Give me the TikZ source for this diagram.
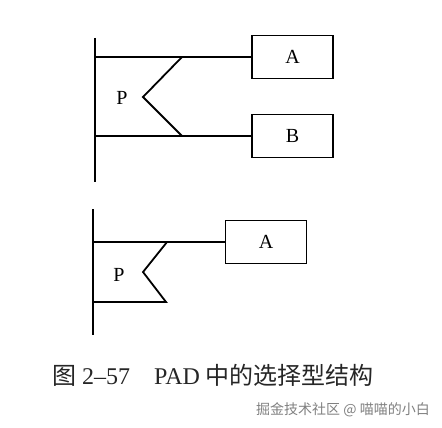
\documentclass[tikz,border=0pt]{standalone}
\usepackage{fontspec}
\setmainfont{Liberation Serif}
\newfontfamily\cjk{Noto Sans CJK SC}
\begin{document}
\begin{tikzpicture}[x=1pt, y=-1pt, line width=1.8pt,
  box/.style={draw, inner sep=0pt, minimum width=81pt, minimum height=43pt, font=\fontsize{20}{20}\selectfont},
  lab/.style={font=\fontsize{20}{20}\selectfont}]
\useasboundingbox (0,0) rectangle (442,428);
% upper: two branches
\coordinate (top1) at (95,38);
\coordinate (bot1) at (95,182);
\draw (top1) -- (bot1);
\node[box] (A1) at (292.5,57) {A};
\node[box] (B1) at (292.5,136) {B};
\coordinate (ua) at (95,57);
\coordinate (ub) at (95,136);
\coordinate (ca) at (182,57);
\coordinate (cm) at (143,97);
\coordinate (cb) at (182,136);
\draw (ua) -- (A1.west);
\draw (ub) -- (B1.west);
\draw (ca) -- (cm) -- (cb);
\node[lab] (P1) at (122,98) {P};
% lower: one branch
\coordinate (top2) at (93,209);
\coordinate (bot2) at (93,335);
\draw (top2) -- (bot2);
\node[box] (A2) at (266,242) {A};
\coordinate (la) at (93,242);
\coordinate (lb) at (93,302);
\coordinate (da) at (167,242);
\coordinate (dm) at (143,272);
\coordinate (db) at (166,302);
\draw (la) -- (A2.west);
\draw (da) -- (dm) -- (db) -- (lb);
\node[lab] (P2) at (119,275) {P};
% caption
\node[font=\fontsize{24}{24}\selectfont, text=black!85] (cap) at (213,375)
  {{\cjk 图} 2–57\quad PAD {\cjk 中的选择型结构}};
\node[font=\fontsize{14}{14}\selectfont\cjk, text=black!50] (mark) at (343,410)
  {掘金技术社区 @ 喵喵的小白};
\end{tikzpicture}
\end{document}
